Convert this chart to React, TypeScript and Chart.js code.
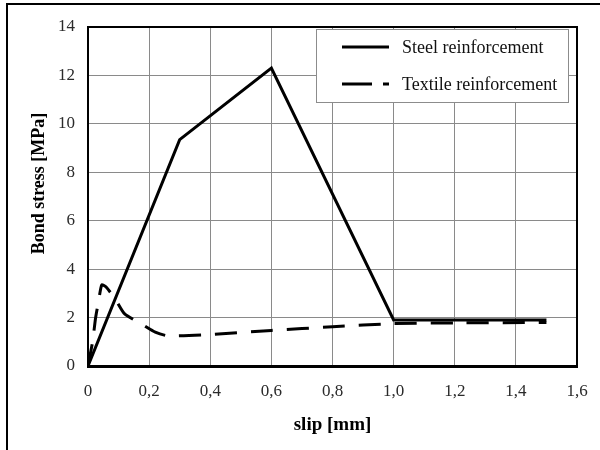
import React, { useEffect, useRef } from "react";
import { Chart, registerables } from "chart.js";

Chart.register(...registerables);

const seriesLabels = ["Steel reinforcement", "Textile reinforcement"];

const steelSlip = [0, 0.3, 0.6, 1.0, 1.5];
const steelStress = [0, 9.35, 12.3, 1.9, 1.9];

const textileSlip = [0, 0.015, 0.025, 0.035, 0.045, 0.06, 0.09, 0.12, 0.18, 0.22, 0.26, 0.4, 0.6, 0.8, 1.0, 1.2, 1.5];
const textileStress = [0, 1.0, 2.0, 2.7, 3.35, 3.25, 2.75, 2.15, 1.7, 1.4, 1.25, 1.3, 1.47, 1.62, 1.75, 1.78, 1.8];

const xTickLabels = ["0", "0,2", "0,4", "0,6", "0,8", "1,0", "1,2", "1,4", "1,6"];
const yTickLabels = ["0", "2", "4", "6", "8", "10", "12", "14"];

const xTitle = "slip [mm]";
const yTitle = "Bond stress [MPa]";

const SERIF = "'Liberation Serif', 'Times New Roman', serif";

const framePlugin = {
  id: "frameAndLegend",
  afterDatasetsDraw(chart: any) {
    const { ctx, chartArea } = chart;
    ctx.save();
    ctx.strokeStyle = "#000";
    ctx.lineWidth = 2;
    ctx.beginPath();
    ctx.moveTo(chartArea.left, chartArea.top);
    ctx.lineTo(chartArea.right, chartArea.top);
    ctx.lineTo(chartArea.right, chartArea.bottom);
    ctx.stroke();
    ctx.restore();
  },
  afterDraw(chart: any) {
    const { ctx, chartArea } = chart;
    ctx.save();
    // outer frame (left and top edges)
    ctx.strokeStyle = "#000";
    ctx.lineWidth = 2;
    ctx.beginPath();
    ctx.moveTo(7, chart.height);
    ctx.lineTo(7, 4);
    ctx.lineTo(chart.width, 4);
    ctx.stroke();

    // y axis title
    ctx.save();
    ctx.translate(39, (chartArea.top + chartArea.bottom) / 2 - 13);
    ctx.rotate(-Math.PI / 2);
    ctx.fillStyle = "#000";
    ctx.font = `bold 18px ${SERIF}`;
    ctx.textAlign = "center";
    ctx.textBaseline = "middle";
    ctx.fillText(yTitle, 0, 0);
    ctx.restore();

    // legend box
    const bx = chartArea.right - 261;
    const by = chartArea.top + 2;
    const bw = 252;
    const bh = 73;
    ctx.fillStyle = "#fff";
    ctx.fillRect(bx, by, bw, bh);
    ctx.strokeStyle = "#8c8c8c";
    ctx.lineWidth = 1;
    ctx.strokeRect(bx + 0.5, by + 0.5, bw, bh);

    const ds = chart.data.datasets;
    const rows = [by + 18, by + 55];
    ds.forEach((d: any, i: number) => {
      const y = rows[i];
      ctx.strokeStyle = "#000";
      ctx.lineWidth = 3;
      ctx.setLineDash(i === 0 ? [] : [30, 11]);
      ctx.beginPath();
      ctx.moveTo(bx + 26, y);
      ctx.lineTo(bx + 73, y);
      ctx.stroke();
      ctx.setLineDash([]);
      ctx.fillStyle = "#111";
      ctx.font = `18px ${SERIF}`;
      ctx.textBaseline = "middle";
      ctx.textAlign = "left";
      ctx.fillText(d.label, bx + 86, y + 1);
    });
    ctx.restore();
  },
};

export default function App() {
  const ref = useRef<HTMLCanvasElement | null>(null);

  useEffect(() => {
    if (!ref.current) return;
    const chart = new Chart(ref.current, {
      type: "line",
      data: {
        datasets: [
          {
            label: seriesLabels[0],
            data: steelSlip.map((x, i) => ({ x, y: steelStress[i] })),
            borderColor: "#000",
            borderWidth: 3,
            pointRadius: 0,
            tension: 0,
            fill: false,
          },
          {
            label: seriesLabels[1],
            data: textileSlip.map((x, i) => ({ x, y: textileStress[i] })),
            borderColor: "#000",
            borderWidth: 3,
            borderDash: [22, 14],
            pointRadius: 0,
            tension: 0.2,
            fill: false,
          },
        ],
      },
      options: {
        responsive: false,
        animation: false,
        devicePixelRatio: 1,
        layout: { padding: { top: 27, right: 23, left: 0, bottom: 0 } },
        plugins: {
          legend: { display: false },
          tooltip: { enabled: false },
        },
        scales: {
          x: {
            type: "linear",
            min: 0,
            max: 1.6,
            afterFit: (s: any) => {
              s.height = 84;
              s.paddingLeft = 0;
              s.paddingRight = 0;
            },
            ticks: {
              stepSize: 0.2,
              padding: 15,
              color: "#2a2a2a",
              font: { family: SERIF, size: 17 },
              callback: (_v: any, i: number) => xTickLabels[i],
              maxRotation: 0,
            },
            grid: { color: "#8a8a8a", lineWidth: 1, drawTicks: false },
            border: { display: true, color: "#000", width: 3 },
            title: {
              display: true,
              text: xTitle,
              color: "#000",
              font: { family: SERIF, size: 19, weight: "bold" },
              padding: { top: 0, bottom: 14 },
            },
          },
          y: {
            type: "linear",
            min: 0,
            max: 14,
            afterFit: (s: any) => {
              s.width = 88;
              s.paddingTop = 0;
              s.paddingBottom = 0;
            },
            ticks: {
              stepSize: 2,
              padding: 13,
              color: "#2a2a2a",
              font: { family: SERIF, size: 17 },
              callback: (_v: any, i: number) => yTickLabels[i],
            },
            grid: { color: "#8a8a8a", lineWidth: 1, drawTicks: false },
            border: { display: true, color: "#000", width: 2 },
            title: { display: false, text: yTitle },
          },
        },
      },
      plugins: [framePlugin],
    });
    return () => chart.destroy();
  }, []);

  return (
    <div style={{ position: "fixed", left: 0, top: 0, width: 600, height: 450, background: "#fff" }}>
      <canvas ref={ref} width={600} height={450} />
    </div>
  );
}
